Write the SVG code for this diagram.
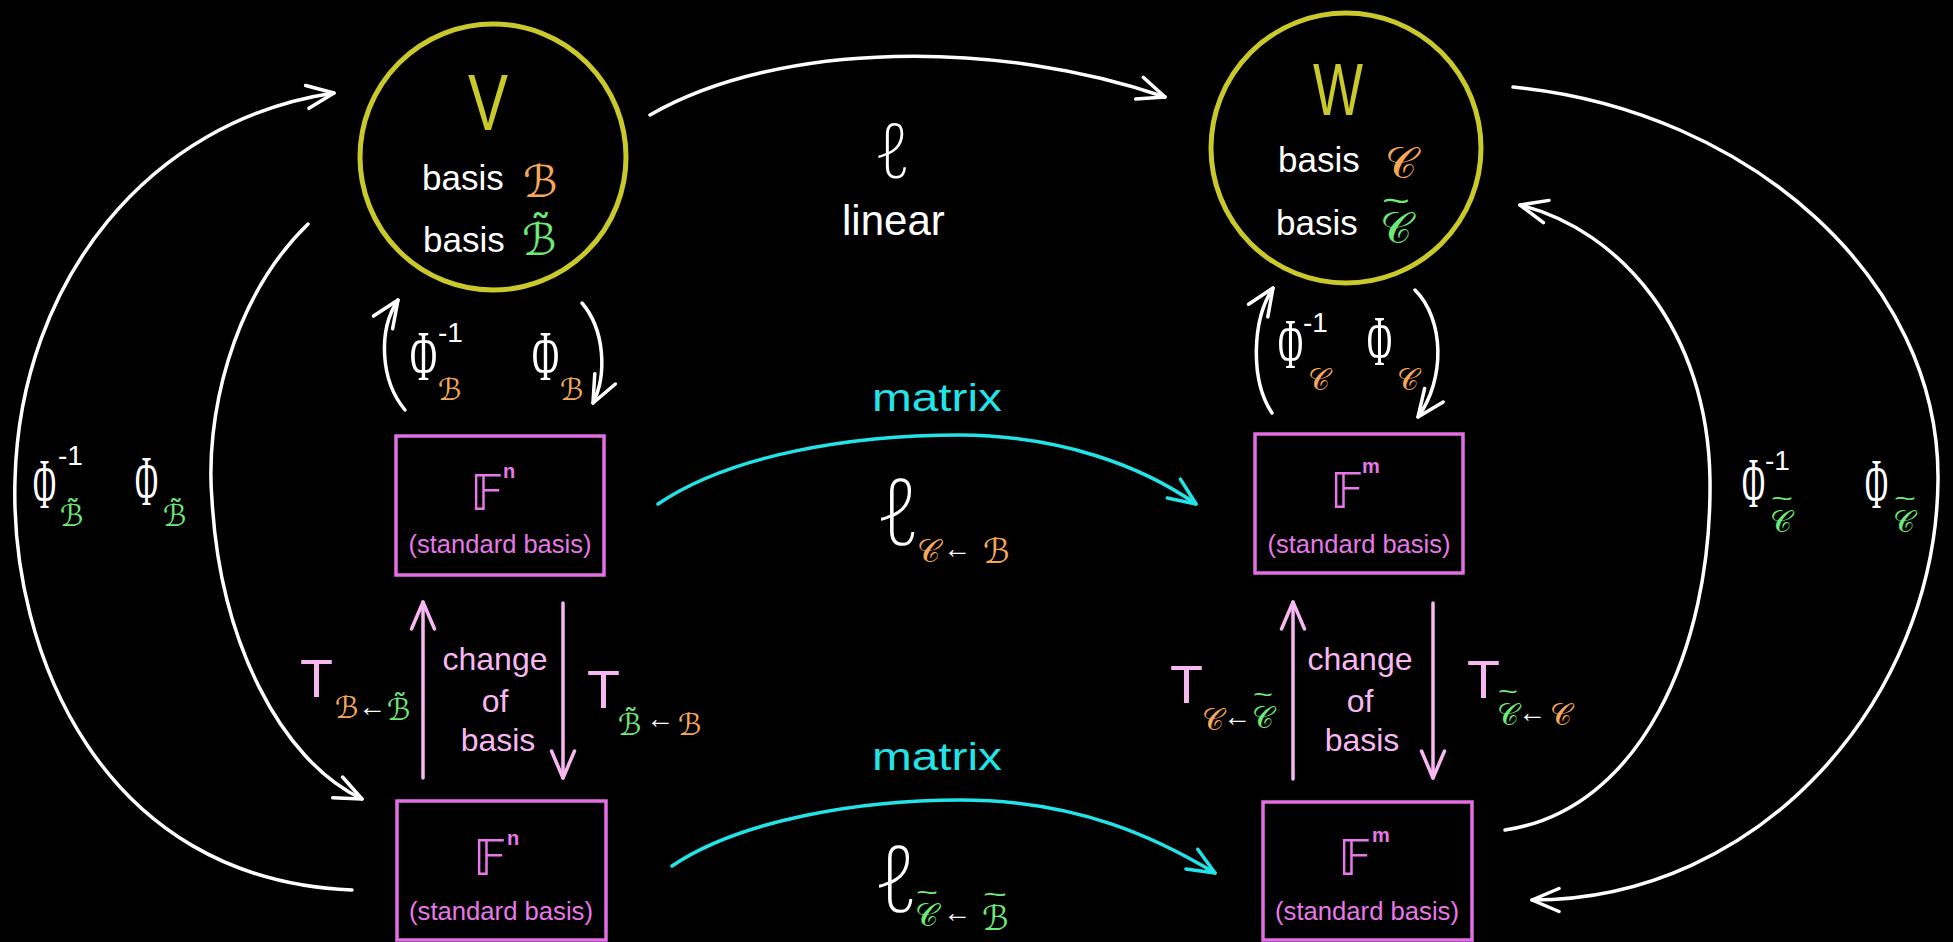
<svg xmlns="http://www.w3.org/2000/svg" width="1953" height="942" viewBox="0 0 1953 942">
<style>
text{font-family:"Liberation Sans",Arial,sans-serif}
.wt{fill:#ffffff}
.bs{font-size:35px;fill:#ffffff}
.sym{font-family:"DejaVu Sans","Noto Sans",sans-serif}
.ell{font-family:"Noto Sans","DejaVu Sans",sans-serif;font-weight:200;fill:#ffffff}
.phi{font-family:"Liberation Serif","DejaVu Serif",serif;fill:#ffffff;font-size:72px}
.sup{font-size:28px;fill:#ffffff;font-family:"Liberation Sans",sans-serif}
.ar{font-size:28px;fill:#ffffff;font-family:"Liberation Sans",sans-serif}
.or{fill:#f5a85a}
.gr{fill:#6ee878}
.td{fill:#6ee878;font-family:"Liberation Sans",sans-serif}
.pk{fill:#e878e8}
.lp{fill:#f7b8f2}
.cy{fill:#22e4e8}
.std{font-size:25px;fill:#e878e8;text-anchor:middle}
.cob{font-size:32px;fill:#f7b8f2;text-anchor:middle}
.box{fill:none;stroke:#e46ee4;stroke-width:3.5}
.circ{fill:none;stroke:#c9c92c;stroke-width:5}
.cw{fill:none;stroke:#ffffff;stroke-width:3.5;stroke-linecap:round}
.cc{fill:none;stroke:#22e4e8;stroke-width:3.5;stroke-linecap:round}
.cp{fill:none;stroke:#f7b8f2;stroke-width:3.5;stroke-linecap:round}
</style>
<defs>
<marker id="aw" viewBox="0 0 32 30" refX="30" refY="15" markerWidth="32" markerHeight="30" markerUnits="userSpaceOnUse" orient="auto"><path d="M3,3.5 L30,15 L3,26.5" fill="none" stroke="#ffffff" stroke-width="3.5" stroke-linecap="round" stroke-linejoin="round"/></marker>
<marker id="ac" viewBox="0 0 32 30" refX="30" refY="15" markerWidth="32" markerHeight="30" markerUnits="userSpaceOnUse" orient="auto"><path d="M3,3.5 L30,15 L3,26.5" fill="none" stroke="#22e4e8" stroke-width="3.5" stroke-linecap="round" stroke-linejoin="round"/></marker>
<marker id="ap" viewBox="0 0 32 30" refX="30" refY="15" markerWidth="32" markerHeight="30" markerUnits="userSpaceOnUse" orient="auto"><path d="M3,3.5 L30,15 L3,26.5" fill="none" stroke="#f7b8f2" stroke-width="3.5" stroke-linecap="round" stroke-linejoin="round"/></marker>
</defs>
<rect width="1953" height="942" fill="#000000"/>

<g id="connectors">
<path class="cw" d="M650,115 C780,40 1000,40 1165,97" marker-end="url(#aw)"/>
<path class="cw" d="M352,890 C100,880 10,650 15,480 C20,280 150,120 334,93" marker-end="url(#aw)"/>
<path class="cw" d="M308,224 C230,300 205,420 212,500 C220,640 280,760 362,799" marker-end="url(#aw)"/>
<path class="cw" d="M1505,830 C1640,810 1712,650 1710,480 C1708,330 1620,230 1520,205" marker-end="url(#aw)"/>
<path class="cw" d="M1513,87 C1750,110 1940,280 1938,480 C1936,700 1760,900 1532,900" marker-end="url(#aw)"/>
<path class="cw" d="M405,410 C380,380 378,330 398,300" marker-end="url(#aw)"/>
<path class="cw" d="M582,303 C605,330 607,375 593,403" marker-end="url(#aw)"/>
<path class="cw" d="M1272,413 C1250,380 1252,320 1273,288" marker-end="url(#aw)"/>
<path class="cw" d="M1415,290 C1445,320 1445,380 1418,417" marker-end="url(#aw)"/>
<path class="cc" d="M658,504 C730,455 850,435 960,435 C1060,436 1140,465 1196,504" marker-end="url(#ac)"/>
<path class="cc" d="M672,866 C740,820 860,800 960,800 C1080,800 1160,840 1215,873" marker-end="url(#ac)"/>
<path class="cp" d="M423,778 L423,602" marker-end="url(#ap)"/>
<path class="cp" d="M563,603 L563,778" marker-end="url(#ap)"/>
<path class="cp" d="M1293,779 L1293,602" marker-end="url(#ap)"/>
<path class="cp" d="M1433,603 L1433,778" marker-end="url(#ap)"/>
</g>

<g id="node-V">
<circle class="circ" cx="493" cy="157" r="133"/>
<text x="468" y="130" font-size="80" fill="#c9c92c" textLength="40" lengthAdjust="spacingAndGlyphs">V</text>
<text class="bs" x="422" y="190">basis<tspan class="sym or" x="523" y="197" font-size="44">ℬ</tspan></text>
<text class="bs" x="423" y="252">basis<tspan class="sym gr" x="522" y="255" font-size="44">ℬ̃</tspan></text>
</g>

<g id="node-W">
<circle class="circ" cx="1346" cy="148" r="135"/>
<text x="1313" y="115" font-size="74" fill="#c9c92c" textLength="50" lengthAdjust="spacingAndGlyphs">W</text>
<text class="bs" x="1278" y="172">basis<tspan class="sym or" x="1385" y="178" font-size="44">𝒞</tspan></text>
<text class="bs" x="1276" y="235">basis<tspan class="sym gr" x="1380" y="243" font-size="44">𝒞</tspan><tspan class="td" x="1382" y="212" font-size="34" textLength="28" lengthAdjust="spacingAndGlyphs">~</tspan></text>
</g>

<g id="node-Fn-top">
<rect class="box" x="396" y="436" width="208" height="139"/>
<text class="sym pk" x="470" y="510" font-size="50">𝔽<tspan x="503" y="478" font-size="20" font-weight="bold" style="font-family:'Liberation Sans',sans-serif">n</tspan></text>
<text class="std" x="500" y="553" textLength="183" lengthAdjust="spacingAndGlyphs">(standard basis)</text>
</g>

<g id="node-Fm-top">
<rect class="box" x="1255" y="434" width="208" height="139"/>
<text class="sym pk" x="1330" y="508" font-size="50">𝔽<tspan x="1362" y="473" font-size="20" font-weight="bold" style="font-family:'Liberation Sans',sans-serif">m</tspan></text>
<text class="std" x="1359" y="553" textLength="183" lengthAdjust="spacingAndGlyphs">(standard basis)</text>
</g>

<g id="node-Fn-bottom">
<rect class="box" x="397" y="801" width="209" height="139"/>
<text class="sym pk" x="473" y="875" font-size="50">𝔽<tspan x="507" y="845" font-size="20" font-weight="bold" style="font-family:'Liberation Sans',sans-serif">n</tspan></text>
<text class="std" x="501" y="920" textLength="184" lengthAdjust="spacingAndGlyphs">(standard basis)</text>
</g>

<g id="node-Fm-bottom">
<rect class="box" x="1263" y="802" width="209" height="138"/>
<text class="sym pk" x="1338" y="875" font-size="50">𝔽<tspan x="1372" y="842" font-size="20" font-weight="bold" style="font-family:'Liberation Sans',sans-serif">m</tspan></text>
<text class="std" x="1367" y="920" textLength="184" lengthAdjust="spacingAndGlyphs">(standard basis)</text>
</g>

<g id="labels">
<text class="ell" x="874" y="178" font-size="76">ℓ</text>
<text class="wt" x="842" y="235" font-size="42">linear</text>

<text class="cy" x="872" y="411" font-size="38" textLength="130" lengthAdjust="spacingAndGlyphs">matrix</text>
<text class="ell" x="876" y="545" font-size="92">ℓ<tspan class="sym or" x="917" y="562" font-size="32" font-weight="normal">𝒞</tspan><tspan class="ar" x="943" y="558" font-weight="normal">←</tspan><tspan class="sym or" x="983" y="563" font-size="34" font-weight="normal">ℬ</tspan></text>

<text class="cy" x="872" y="770" font-size="38" textLength="130" lengthAdjust="spacingAndGlyphs">matrix</text>
<text class="ell" x="874" y="912" font-size="92">ℓ<tspan class="sym gr" x="915" y="926" font-size="32" font-weight="normal">𝒞</tspan><tspan class="td" x="916" y="901" font-size="26" textLength="22" lengthAdjust="spacingAndGlyphs" font-weight="normal">~</tspan><tspan class="ar" x="943" y="922" font-weight="normal">←</tspan><tspan class="sym gr" x="982" y="930" font-size="34" font-weight="normal">ℬ</tspan><tspan class="td" x="983" y="903" font-size="26" textLength="24" lengthAdjust="spacingAndGlyphs" font-weight="normal">~</tspan></text>

<text class="phi" x="410" y="380"><tspan textLength="27" lengthAdjust="spacingAndGlyphs">Φ</tspan><tspan class="sup" x="438" y="342">-1</tspan><tspan class="sym or" x="438" y="400" font-size="30">ℬ</tspan></text>
<text class="phi" x="532" y="380"><tspan textLength="27" lengthAdjust="spacingAndGlyphs">Φ</tspan><tspan class="sym or" x="560" y="400" font-size="30">ℬ</tspan></text>

<text class="phi" x="1278" y="368"><tspan textLength="25" lengthAdjust="spacingAndGlyphs">Φ</tspan><tspan class="sup" x="1303" y="332">-1</tspan><tspan class="sym or" x="1308" y="390" font-size="30">𝒞</tspan></text>
<text class="phi" x="1367" y="365"><tspan textLength="25" lengthAdjust="spacingAndGlyphs">Φ</tspan><tspan class="sym or" x="1397" y="390" font-size="30">𝒞</tspan></text>

<text class="phi" x="33" y="508"><tspan textLength="23" lengthAdjust="spacingAndGlyphs">Φ</tspan><tspan class="sup" x="58" y="465">-1</tspan><tspan class="sym gr" x="60" y="526" font-size="30">ℬ̃</tspan></text>
<text class="phi" x="135" y="505"><tspan textLength="23" lengthAdjust="spacingAndGlyphs">Φ</tspan><tspan class="sym gr" x="163" y="526" font-size="30">ℬ̃</tspan></text>

<text class="phi" x="1742" y="507"><tspan textLength="23" lengthAdjust="spacingAndGlyphs">Φ</tspan><tspan class="sup" x="1765" y="470">-1</tspan><tspan class="sym gr" x="1770" y="532" font-size="30">𝒞</tspan><tspan class="td" x="1771" y="507" font-size="24" textLength="22" lengthAdjust="spacingAndGlyphs">~</tspan></text>
<text class="phi" x="1865" y="508"><tspan textLength="23" lengthAdjust="spacingAndGlyphs">Φ</tspan><tspan class="sym gr" x="1893" y="532" font-size="30">𝒞</tspan><tspan class="td" x="1894" y="507" font-size="24" textLength="22" lengthAdjust="spacingAndGlyphs">~</tspan></text>

<text class="cob" x="495" y="670">change<tspan x="495" y="712">of</tspan><tspan x="498" y="751">basis</tspan></text>
<text class="cob" x="1360" y="670">change<tspan x="1360" y="712">of</tspan><tspan x="1362" y="751">basis</tspan></text>

<text class="lp" x="300" y="697" font-size="54">T<tspan class="sym or" x="335" y="718" font-size="30">ℬ</tspan><tspan class="ar" x="358" y="716">←</tspan><tspan class="sym gr" x="387" y="720" font-size="30">ℬ̃</tspan></text>

<text class="lp" x="587" y="708" font-size="54">T<tspan class="sym gr" x="618" y="735" font-size="30">ℬ̃</tspan><tspan class="ar" x="646" y="728">←</tspan><tspan class="sym or" x="678" y="735" font-size="30">ℬ</tspan></text>

<text class="lp" x="1170" y="703" font-size="54">T<tspan class="sym or" x="1202" y="730" font-size="30">𝒞</tspan><tspan class="ar" x="1223" y="726">←</tspan><tspan class="sym gr" x="1252" y="728" font-size="30">𝒞</tspan><tspan class="td" x="1253" y="703" font-size="24" textLength="20" lengthAdjust="spacingAndGlyphs">~</tspan></text>

<text class="lp" x="1467" y="698" font-size="54">T<tspan class="sym gr" x="1497" y="725" font-size="30">𝒞</tspan><tspan class="td" x="1498" y="700" font-size="24" textLength="20" lengthAdjust="spacingAndGlyphs">~</tspan><tspan class="ar" x="1518" y="722">←</tspan><tspan class="sym or" x="1550" y="725" font-size="30">𝒞</tspan></text>
</g>
</svg>
